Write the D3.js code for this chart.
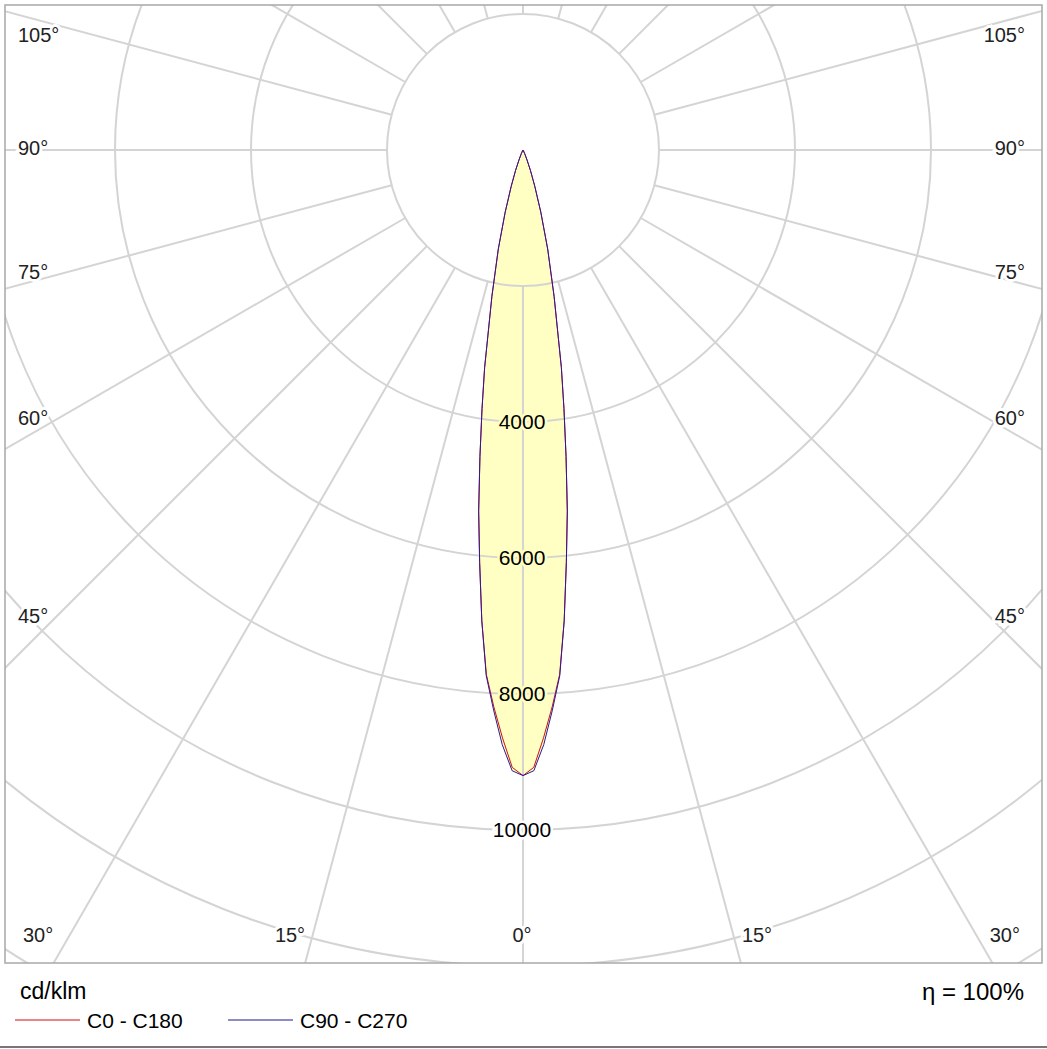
<!DOCTYPE html>
<html><head><meta charset="utf-8">
<script src="https://cdn.jsdelivr.net/npm/d3@7"></script>
<style>body{margin:0;background:#fff}svg{font-family:Arial,"Liberation Sans",sans-serif}</style>
</head><body><svg id="c" width="1047" height="1049"></svg>
<script>
// gamma angles (deg) and intensities (cd/klm)
const angles = [0, 1, 2, 3, 4, 5, 6, 7, 8, 9, 10, 12, 14, 16, 18, 20, 22, 25, 28, 30]
const c0c180 = [9200, 9080, 8650, 8200, 7730, 6950, 6100, 5350, 4550, 3850, 3250, 2200, 1500, 950, 560, 320, 160, 60, 15, 0]
const c90c270 = [9200, 9130, 8750, 8250, 7750, 6950, 6100, 5350, 4550, 3850, 3250, 2200, 1500, 950, 560, 320, 160, 60, 15, 0]
const ringValues = [2000, 4000, 6000, 8000, 10000, 12000, 14000, 16000]
const ringLabels = [4000, 6000, 8000, 10000]
const spokes = d3.range(0, 360, 15)
const sideLabels = [105, 90, 75, 60, 45, 30]
const bottomLabels = [15, 0, 15]

const svg = d3.select('#c')
const cx = 523, cy = 150
const r = d3.scaleLinear().domain([0, 2000]).range([0, 136])
const frame = {x0: 5, y0: 5, x1: 1042, y1: 963}
const grid = '#d4d4d4'

svg.append('defs').append('clipPath').attr('id', 'clip')
  .append('rect').attr('x', frame.x0).attr('y', frame.y0)
  .attr('width', frame.x1 - frame.x0).attr('height', frame.y1 - frame.y0)
const g = svg.append('g').attr('clip-path', 'url(#clip)')

const pt = (deg, v) => {
  const a = deg * Math.PI / 180
  return [cx + r(v) * Math.sin(a), cy + r(v) * Math.cos(a)]
}
const curve = vals => {
  const pts = []
  for (let i = angles.length - 1; i > 0; i--) pts.push(pt(-angles[i], vals[i]))
  angles.forEach((a, i) => pts.push(pt(a, vals[i])))
  return d3.line()(pts)
}

// fill
g.append('path').attr('d', curve(c90c270)).attr('fill', '#ffffc4')

// rings
g.selectAll('circle.ring').data(ringValues).join('circle')
  .attr('cx', cx).attr('cy', cy).attr('r', d => r(d))
  .attr('fill', 'none').attr('stroke', grid).attr('stroke-width', 2)

// spokes
g.selectAll('line.spoke').data(spokes).join('line')
  .attr('x1', d => pt(d, 2000)[0]).attr('y1', d => pt(d, 2000)[1])
  .attr('x2', d => pt(d, 20000)[0]).attr('y2', d => pt(d, 20000)[1])
  .attr('stroke', grid).attr('stroke-width', 2)

// curves
g.append('path').attr('d', curve(c0c180)).attr('fill', 'none').attr('stroke', '#cc1111').attr('stroke-width', 1)
g.append('path').attr('d', curve(c90c270)).attr('fill', 'none').attr('stroke', '#2a1a9c').attr('stroke-width', 1)

// frame
svg.append('rect').attr('x', frame.x0).attr('y', frame.y0)
  .attr('width', frame.x1 - frame.x0).attr('height', frame.y1 - frame.y0)
  .attr('fill', 'none').attr('stroke', '#a8a8a8').attr('stroke-width', 1.5)
svg.append('line').attr('x1', 0).attr('x2', 1047).attr('y1', 1047).attr('y2', 1047)
  .attr('stroke', '#777').attr('stroke-width', 2)

// ring labels
svg.selectAll('text.rl').data(ringLabels).join('text')
  .attr('x', cx - 1).attr('y', d => cy + r(d)).attr('dy', '0.35em')
  .attr('text-anchor', 'middle').attr('font-size', 21)
  .attr('paint-order', 'stroke').attr('stroke', d => d < 9300 ? '#ffffc4' : '#fff').attr('stroke-width', 5)
  .text(d => d)

// angle labels
const sideY = {105: 35, 90: 148, 75: 272, 60: 418, 45: 616, 30: 935}
const lab = (x, y, t, anchor) => svg.append('text').attr('x', x).attr('y', y).attr('dy', '0.35em')
  .attr('text-anchor', anchor).attr('font-size', 20).attr('fill', '#222')
  .attr('paint-order', 'stroke').attr('stroke', '#fff').attr('stroke-width', 6)
  .text(t + '°')
sideLabels.forEach(a => {
  const dx = a === 30 ? 5 : 0
  lab(18 + dx, sideY[a], a, 'start')
  lab(1025 - dx, sideY[a], a, 'end')
})
bottomLabels.forEach((a, i) => lab([290, 522, 757][i], 935, a, 'middle'))

// legend
svg.append('text').attr('x', 20).attr('y', 999).attr('font-size', 23).text('cd/klm')
svg.append('text').attr('x', 1024).attr('y', 1000).attr('font-size', 24).attr('text-anchor', 'end').text('η = 100%')
const legend = [['C0 - C180', '#cc1111', 15], ['C90 - C270', '#1a1a8c', 228]]
legend.forEach(([t, c, x]) => {
  svg.append('line').attr('x1', x).attr('x2', x + 65).attr('y1', 1020).attr('y2', 1020).attr('stroke', c)
  svg.append('text').attr('x', x + 72).attr('y', 1028).attr('font-size', 21).text(t)
})
</script></body></html>
